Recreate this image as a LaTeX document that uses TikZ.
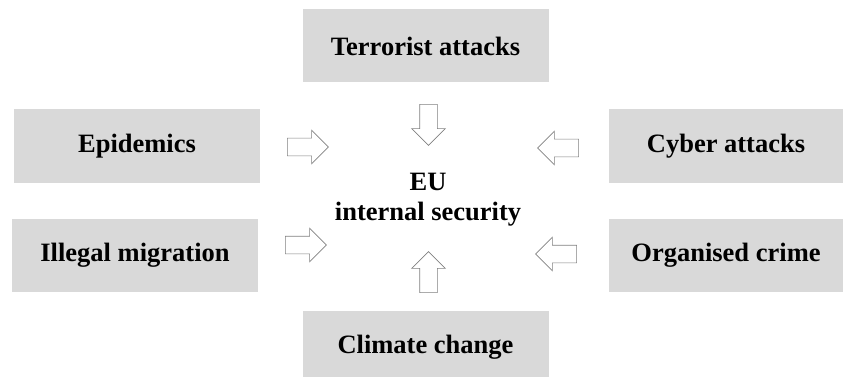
\documentclass[tikz,border=0pt]{standalone}
\usepackage{fontspec}
\setmainfont{Liberation Serif}
\usetikzlibrary{shapes.arrows}
\definecolor{boxgray}{HTML}{D9D9D9}
\definecolor{arrowgray}{HTML}{808080}
\tikzset{
	threat/.style = {fill = boxgray, inner sep = 0pt, minimum width = 246pt, minimum height = 73pt, font = \fontsize{26.5}{30}\selectfont\bfseries},
	push/.style = {single arrow, draw = arrowgray, line width = 0.6pt, inner xsep = 0pt, inner ysep = 8.5pt, single arrow head extend = 8pt, minimum height = 41pt}
}

\begin{document}
\begin{tikzpicture}[x = 1pt, y = -1pt]
	\useasboundingbox (0,0) rectangle (843,377);
	\node (terror)[threat] at (425.5,46){Terrorist attacks};
	\node (epid)[threat] at (137,146){Epidemics};
	\node (cyber)[threat, minimum width = 234pt] at (726,146){Cyber attacks};
	\node (migr)[threat] at (135,255.5){Illegal migration};
	\node (crime)[threat, minimum width = 234pt] at (726,255.5){Organised crime};
	\node (climate)[threat] at (425.5,347){Climate change};
	%
	\node (eu)[align = center, font = \fontsize{26.5}{30}\selectfont\bfseries] at (428,200){EU\\internal security};
	%
	\node (pTerror)[push, rotate = -90] at (428.5,120.5){};
	\node (pClimate)[push, rotate = 90] at (428.5,276.5){};
	\node (pEpid)[push] at (303.5,147){};
	\node (pMigr)[push] at (301.5,245){};
	\node (pCyber)[push, rotate = 180] at (562.5,148){};
	\node (pCrime)[push, rotate = 180] at (560.5,254){};
\end{tikzpicture}
\end{document}
